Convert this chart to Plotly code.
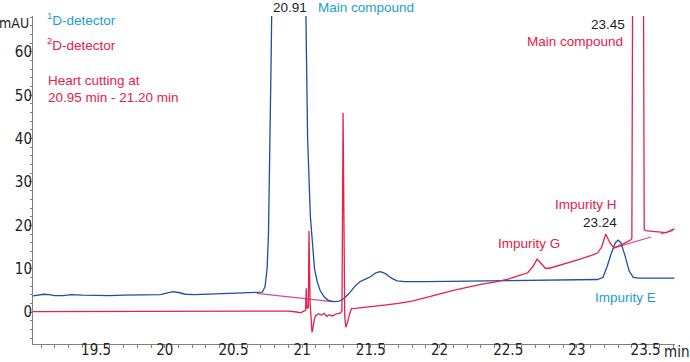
import plotly.graph_objects as go

# 1D detector (blue) - time (min), signal (mAU)
t1 = [19.04, 19.08, 19.12, 19.16, 19.20, 19.26, 19.32, 19.40, 19.50, 19.60, 19.70, 19.80, 19.90, 19.97,
      20.02, 20.06, 20.10, 20.15, 20.22, 20.30, 20.40, 20.50, 20.60, 20.68, 20.71, 20.73, 20.745, 20.755,
      20.765, 20.775, 20.79, 20.85, 20.91, 20.97, 21.01, 21.025, 21.04, 21.06, 21.075, 21.09, 21.11, 21.13,
      21.16, 21.19, 21.23, 21.27, 21.30, 21.34, 21.38, 21.42, 21.46, 21.50, 21.54, 21.57, 21.61, 21.65,
      21.69, 21.75, 21.9, 22.2, 22.5, 22.8, 23.0, 23.15, 23.19, 23.22, 23.25, 23.28, 23.30, 23.32, 23.35,
      23.38, 23.41, 23.45, 23.55, 23.71]
v1 = [3.7, 3.9, 4.1, 4.0, 3.8, 3.8, 4.0, 3.9, 3.8, 3.8, 3.9, 3.9, 4.0, 4.0,
      4.4, 4.7, 4.5, 4.1, 4.0, 4.1, 4.2, 4.2, 4.3, 4.4, 4.6, 5.8, 10, 18,
      35, 60, 100, 200, 250, 200, 110, 68, 40, 22, 16, 10, 7, 5,
      3.5, 2.7, 2.4, 2.5, 3.0, 4.2, 5.8, 7.0, 7.6, 8.2, 9.1, 9.3, 8.8, 7.8,
      7.2, 7.0, 7.0, 7.1, 7.2, 7.3, 7.4, 7.5, 8.0, 10.5, 13.5, 16.0, 16.6, 16.0, 13.0,
      9.5, 8.0, 7.8, 7.8, 7.8]

# 2D detector (red)
t2 = [19.04, 19.5, 20.0, 20.5, 20.9, 20.96, 20.99, 21.01, 21.025, 21.03, 21.035, 21.045, 21.05, 21.058,
      21.065, 21.072, 21.08, 21.09, 21.10, 21.12, 21.14, 21.16, 21.18, 21.20, 21.22, 21.25, 21.28, 21.29,
      21.298, 21.305, 21.31, 21.318, 21.33, 21.345, 21.36, 21.40, 21.50, 21.60, 21.70, 21.80, 21.90, 22.0,
      22.1, 22.2, 22.3, 22.4, 22.5, 22.6, 22.64, 22.68, 22.71, 22.74, 22.77, 22.8, 22.9, 23.0, 23.1, 23.15,
      23.18, 23.21, 23.24, 23.27, 23.33, 23.39, 23.40, 23.41, 23.45, 23.48, 23.49, 23.5, 23.55, 23.6,
      23.65, 23.68, 23.71]
v2 = [0.1, 0.1, 0.2, 0.2, 0.2, 0.0, -0.2, 0.2, 0.4, 5.5, 0.8, 1.0, 18.7, 2.0,
      -3.0, -4.7, -3.5, -1.5, -0.8, -0.4, -0.7, -0.3, -1.0, -0.6, -0.9, -0.4, -0.2, 0.3,
      46, 10, -1.0, -3.5, -2.5, -0.5, 0.8, 0.9, 1.2, 1.6, 2.0, 2.5, 3.3, 4.2,
      5.0, 5.7, 6.4, 6.9, 7.6, 8.6, 9.0, 10.5, 12.2, 11.2, 10.1, 10.1, 11.0, 12.0, 13.0, 13.6,
      15.0, 18.0, 16.0, 14.8, 15.6, 16.6, 17.0, 120, 250, 120, 19.0, 18.8, 18.6, 18.5,
      18.3, 18.8, 19.2]

# integration baselines (magenta)
tb1 = [20.67, 21.22]
vb1 = [4.3, 2.4]
tb2 = [23.27, 23.54]
vb2 = [14.8, 17.3]
tb3 = [23.61, 23.70]
vb3 = [18.0, 18.8]

x_ticks = [19.5, 20, 20.5, 21, 21.5, 22, 22.5, 23, 23.5]
x_labels = ["19.5", "20", "20.5", "21", "21.5", "22", "22.5", "23", "23.5"]
y_ticks = [0, 10, 20, 30, 40, 50, 60]

BLUE = "#1d4f9f"
RED = "#e6204b"
MAG = "#d64a9c"
CYAN = "#1a9ed3"
NARROW = "Liberation Sans Narrow, DejaVu Sans Condensed, Arial Narrow, sans-serif"
SANS = "Liberation Sans, Arial, sans-serif"

W, H = 690, 362
L, R, T, B = 33, 15, 16, 18

fig = go.Figure()
fig.add_trace(go.Scatter(x=tb1, y=vb1, mode="lines", line=dict(color=MAG, width=1.2), hoverinfo="skip"))
fig.add_trace(go.Scatter(x=tb2, y=vb2, mode="lines", line=dict(color=MAG, width=1.2), hoverinfo="skip"))
fig.add_trace(go.Scatter(x=tb3, y=vb3, mode="lines", line=dict(color=MAG, width=1.2), hoverinfo="skip"))
fig.add_trace(go.Scatter(x=t1, y=v1, mode="lines", line=dict(color=BLUE, width=1.3)))
fig.add_trace(go.Scatter(x=t2, y=v2, mode="lines", line=dict(color=RED, width=1.3)))


def px(xp, yp):
    return (xp - L) / (W - L - R), (H - B - yp) / (H - T - B)


def ann(text, xp, yp, color, xanchor="left", size=13.5, family=SANS):
    x, y = px(xp, yp)
    fig.add_annotation(x=x, y=y, xref="paper", yref="paper", text=text, showarrow=False,
                       xanchor=xanchor, yanchor="middle", borderpad=0,
                       font=dict(color=color, size=size, family=family))


ann("<sup>1</sup>D-detector", 46, 19, CYAN)
ann("<sup>2</sup>D-detector", 46, 44, RED)
ann("Heart cutting at", 47, 81, RED)
ann("20.95 min - 21.20 min", 47, 97, RED)
ann("20.91", 308, 7, "#222222", "right")
ann("Main compound", 317, 7, CYAN)
ann("23.45", 626, 24, "#222222", "right")
ann("Main compound", 624, 42, RED, "right")
ann("Impurity H", 618, 204, RED, "right")
ann("23.24", 618, 222, "#222222", "right")
ann("Impurity G", 497, 244, RED)
ann("Impurity E", 594, 297, CYAN)
ann("mAU", 30, 23, "#222222", "right", 14, NARROW)
ann("min", 690, 352, "#222222", "right", 15, NARROW)

fig.update_layout(
    width=W, height=H, margin=dict(l=L, r=R, t=T, b=B, autoexpand=False),
    paper_bgcolor="white", plot_bgcolor="white", showlegend=False,
    font=dict(family=NARROW, size=15, color="#222222"),
    xaxis=dict(range=[19.041, 23.714], tickvals=x_ticks, ticktext=x_labels, showgrid=False, zeroline=False,
               automargin=False, ticklabelstandoff=-11,
               showline=True, linecolor="#808080", linewidth=1, ticks="outside", ticklen=3, tickcolor="#808080",
               minor=dict(dtick=0.1, tick0=19.0, ticks="outside", ticklen=3, tickcolor="#808080"),
               tickfont=dict(size=15, family=NARROW)),
    yaxis=dict(range=[-7.38, 68.3], tickvals=y_ticks, showgrid=False, zeroline=False,
               automargin=False, ticklabelstandoff=-6,
               showline=True, linecolor="#808080", linewidth=1, ticks="outside", ticklen=3, tickcolor="#808080",
               minor=dict(dtick=2, tick0=0, ticks="outside", ticklen=2, tickcolor="#808080"),
               tickfont=dict(size=15, family=NARROW)),
)

fig.write_html("out.html", config={"displayModeBar": False},
               post_script="document.body.style.margin='0px';document.body.style.overflow='hidden';")
